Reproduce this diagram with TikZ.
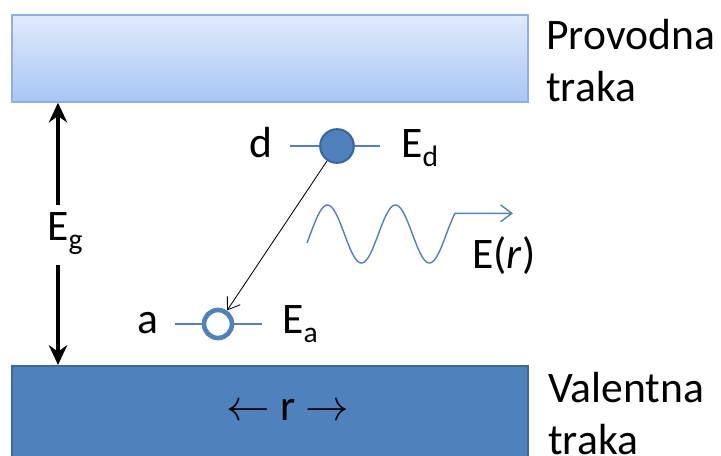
\documentclass[tikz,border=0pt]{standalone}
\usepackage{fix-cm}
\usepackage{fontspec}
\setmainfont{Carlito}
\usetikzlibrary{arrows.meta, positioning}

\definecolor{plava}{HTML}{4F81BD}
\definecolor{plavatamna}{HTML}{3A679E}
\definecolor{svijetla}{HTML}{E0EAFB}
\definecolor{svijetla2}{HTML}{A7C6F5}
\definecolor{rub}{HTML}{8DB0E2}

\newcommand{\indeks}[1]{\raisebox{-0.22em}{\fontsize{21}{21}\selectfont #1}}

\begin{document}
\begin{tikzpicture}[x=0.025cm, y=-0.025cm,
    vodljiva/.style = {rectangle, draw=rub, line width=1pt, top color=svijetla, bottom color=svijetla2,
                       minimum width=12.9cm, minimum height=2.175cm, inner sep=0pt},
    valentna/.style = {rectangle, draw=plavatamna, line width=1.5pt, fill=plava,
                       minimum width=12.9cm, minimum height=2.4cm, inner sep=0pt},
    oznaka/.style   = {font=\fontsize{31}{37}\selectfont, inner sep=0pt},
    razina/.style   = {plava, line width=1pt},
    donor/.style    = {circle, fill=plava, draw=plavatamna, line width=1.5pt, minimum size=0.84cm, inner sep=0pt},
    akceptor/.style = {circle, fill=white, draw=plava, line width=3.3pt, minimum size=0.7cm, inner sep=0pt},
    procjep/.style  = {-{Stealth[length=14pt, width=13pt]}, line width=2.8pt},
    prijelaz/.style = {-{Straight Barb[length=8pt, width=11pt]}, line width=0.6pt},
    val/.style      = {plava, line width=1pt, -{Straight Barb[length=8pt, width=12pt]}},
]
\useasboundingbox (0,0) rectangle (721,455);

% Trake
\node[vodljiva] (cb) at (270,58.5) {};
\node[valentna] (vb) at (270,414) {};
\node[oznaka, anchor=north west, align=left] (cbt) at (546,19) {Provodna\\traka};
\node[oznaka, anchor=north west, align=left] (vbt) at (548,372) {Valentna\\traka};

% Energetski procjep
\node[oznaka, anchor=base west] (eg) at (47,240) {E\indeks{g}};
\coordinate (g1) at (58,205);
\coordinate (g2) at (58,265);
\draw[procjep] (g1) -- (g1 |- cb.south);
\draw[procjep] (g2) -- (g2 |- vb.north);

% Donor
\coordinate (dpos) at (337,146);
\draw[razina] (dpos) ++(-47,0) -- ++(90,0);
\node[donor] (dd) at (dpos) {};
\node[oznaka, anchor=base east] (dl) at (273,157) {d};
\node[oznaka, anchor=base west] (ed) at (401,157) {E\indeks{d}};

% Akceptor
\coordinate (apos) at (218,324);
\draw[razina] (apos) ++(-43,0) -- ++(87,0);
\node[akceptor] (aa) at (apos) {};
\node[oznaka, anchor=base east] (al) at (159,333) {a};
\node[oznaka, anchor=base west] (ea) at (282,333) {E\indeks{a}};

% Prijelaz d -> a
\draw[prijelaz] (dd) -- (aa);

% Foton
\draw[val] plot[domain=0:148, samples=120, smooth] ({307+\x},{234-29*sin(5.294*\x-18)}) -- ++(58,0) coordinate (w1);
\node[oznaka, anchor=base west] (er) at (472,268) {E(\textit{r})};

% Udaljenost
\node[oznaka] (rr) at (288,410) {$\leftarrow$ r $\rightarrow$};

\end{tikzpicture}
\end{document}
